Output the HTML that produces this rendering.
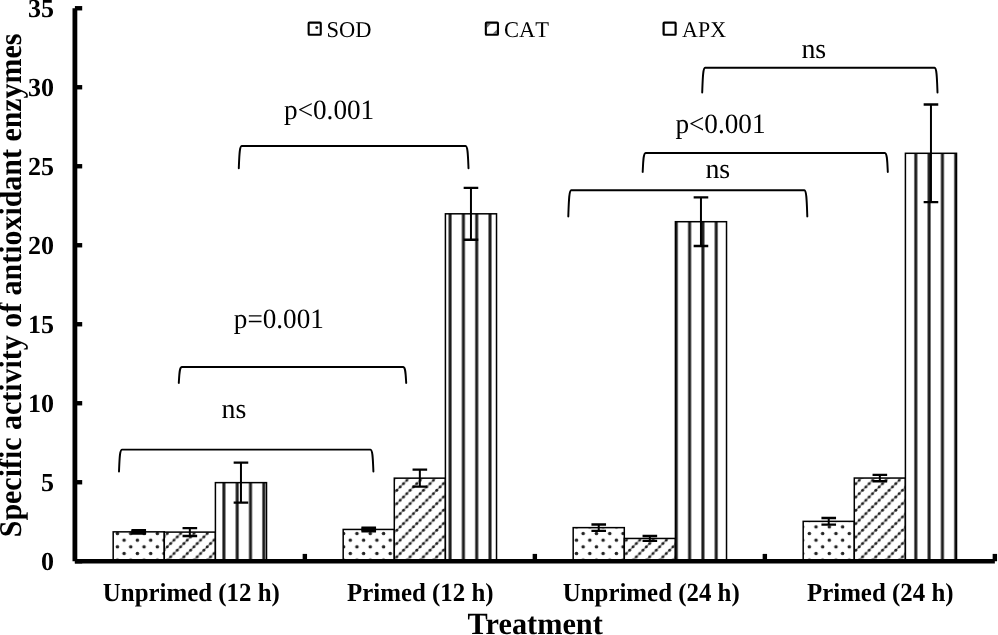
<!DOCTYPE html><html><head><meta charset="utf-8"><style>html,body{margin:0;padding:0;background:#fff;overflow:hidden}svg{display:block;will-change:transform}text{font-family:"Liberation Serif",serif;fill:#000;font-kerning:none;text-rendering:geometricPrecision}.b{font-weight:bold}</style></head><body>
<svg width="998" height="635" viewBox="0 0 998 635">
<defs>
<pattern id="dots" patternUnits="userSpaceOnUse" x="7.6735" y="-2.0765" width="13.306" height="13.306"><rect width="13.306" height="13.306" fill="#fff"/><circle cx="3.3265" cy="3.3265" r="1.75" fill="#222"/><circle cx="9.9795" cy="9.9795" r="1.75" fill="#222"/></pattern>
<pattern id="diag" patternUnits="userSpaceOnUse" x="2.633" y="6.247" width="13.306" height="13.306"><rect width="13.306" height="13.306" fill="#fff"/><path d="M-3,16.306 L16.306,-3 M-3,3 L3,-3 M10.306,16.306 L16.306,10.306" stroke="#8a8a8a" stroke-width="1.5"/><circle cx="1.663" cy="11.643" r="1.45" fill="#1e1e1e"/><circle cx="4.990" cy="8.316" r="1.45" fill="#1e1e1e"/><circle cx="8.316" cy="4.990" r="1.45" fill="#1e1e1e"/><circle cx="11.643" cy="1.663" r="1.45" fill="#1e1e1e"/></pattern>
<pattern id="vert" patternUnits="userSpaceOnUse" x="4.347" y="0" width="13.306" height="13.306"><rect width="13.306" height="13.306" fill="#fff"/><rect x="5.153" y="0" width="3.0" height="13.306" fill="#1c1c1c"/></pattern>
</defs>
<rect width="998" height="635" fill="#fff"/>
<rect x="113.18" y="531.85" width="51.11" height="29.40" fill="url(#dots)" stroke="#000" stroke-width="1.5"/>
<rect x="164.29" y="532.10" width="51.11" height="29.15" fill="url(#diag)" stroke="#000" stroke-width="1.5"/>
<rect x="215.41" y="482.64" width="51.11" height="78.61" fill="url(#vert)" stroke="#000" stroke-width="1.5"/>
<rect x="343.18" y="529.44" width="51.11" height="31.81" fill="url(#dots)" stroke="#000" stroke-width="1.5"/>
<rect x="394.29" y="478.16" width="51.11" height="83.09" fill="url(#diag)" stroke="#000" stroke-width="1.5"/>
<rect x="445.41" y="213.81" width="51.11" height="347.44" fill="url(#vert)" stroke="#000" stroke-width="1.5"/>
<rect x="573.18" y="527.64" width="51.11" height="33.61" fill="url(#dots)" stroke="#000" stroke-width="1.5"/>
<rect x="624.29" y="538.45" width="51.11" height="22.80" fill="url(#diag)" stroke="#000" stroke-width="1.5"/>
<rect x="675.41" y="221.71" width="51.11" height="339.54" fill="url(#vert)" stroke="#000" stroke-width="1.5"/>
<rect x="803.18" y="521.36" width="51.11" height="39.89" fill="url(#dots)" stroke="#000" stroke-width="1.5"/>
<rect x="854.29" y="478.05" width="51.11" height="83.20" fill="url(#diag)" stroke="#000" stroke-width="1.5"/>
<rect x="905.41" y="153.29" width="51.11" height="407.96" fill="url(#vert)" stroke="#000" stroke-width="1.5"/>
<path d="M138.74,530.11V533.58" stroke="#000" stroke-width="2.0" fill="none"/>
<path d="M131.44,530.11h14.6M131.44,533.58h14.6" stroke="#000" stroke-width="2.4" fill="none"/>
<rect x="131.44" y="530.11" width="14.6" height="3.48" fill="#000"/>
<path d="M189.85,528.15V536.05" stroke="#000" stroke-width="2.0" fill="none"/>
<path d="M182.55,528.15h14.6M182.55,536.05h14.6" stroke="#000" stroke-width="2.4" fill="none"/>
<path d="M240.96,462.66V502.63" stroke="#000" stroke-width="2.0" fill="none"/>
<path d="M233.66,462.66h14.6M233.66,502.63h14.6" stroke="#000" stroke-width="2.4" fill="none"/>
<path d="M368.74,527.60V531.29" stroke="#000" stroke-width="2.0" fill="none"/>
<path d="M361.44,527.60h14.6M361.44,531.29h14.6" stroke="#000" stroke-width="2.4" fill="none"/>
<rect x="361.44" y="527.60" width="14.6" height="3.70" fill="#000"/>
<path d="M419.85,469.66V486.66" stroke="#000" stroke-width="2.0" fill="none"/>
<path d="M412.55,469.66h14.6M412.55,486.66h14.6" stroke="#000" stroke-width="2.4" fill="none"/>
<path d="M470.96,187.90V239.72" stroke="#000" stroke-width="2.0" fill="none"/>
<path d="M463.66,187.90h14.6M463.66,239.72h14.6" stroke="#000" stroke-width="2.4" fill="none"/>
<path d="M598.74,524.44V530.85" stroke="#000" stroke-width="2.0" fill="none"/>
<path d="M591.44,524.44h14.6M591.44,530.85h14.6" stroke="#000" stroke-width="2.4" fill="none"/>
<path d="M649.85,536.05V540.85" stroke="#000" stroke-width="2.0" fill="none"/>
<path d="M642.55,536.05h14.6M642.55,540.85h14.6" stroke="#000" stroke-width="2.4" fill="none"/>
<path d="M700.96,197.41V246.01" stroke="#000" stroke-width="2.0" fill="none"/>
<path d="M693.66,197.41h14.6M693.66,246.01h14.6" stroke="#000" stroke-width="2.4" fill="none"/>
<path d="M828.74,518.05V524.66" stroke="#000" stroke-width="2.0" fill="none"/>
<path d="M821.44,518.05h14.6M821.44,524.66h14.6" stroke="#000" stroke-width="2.4" fill="none"/>
<path d="M879.85,474.85V481.25" stroke="#000" stroke-width="2.0" fill="none"/>
<path d="M872.55,474.85h14.6M872.55,481.25h14.6" stroke="#000" stroke-width="2.4" fill="none"/>
<path d="M930.96,104.44V202.15" stroke="#000" stroke-width="2.0" fill="none"/>
<path d="M923.66,104.44h14.6M923.66,202.15h14.6" stroke="#000" stroke-width="2.4" fill="none"/>
<path d="M74.9,8.2V561.25" stroke="#000" stroke-width="4.8"/>
<path d="M74.85,561.25H994.85" stroke="#000" stroke-width="4.7"/>
<path d="M74.9,561.25H82.2" stroke="#000" stroke-width="4.4"/>
<path d="M74.9,482.25H82.2" stroke="#000" stroke-width="4.4"/>
<path d="M74.9,403.25H82.2" stroke="#000" stroke-width="4.4"/>
<path d="M74.9,324.25H82.2" stroke="#000" stroke-width="4.4"/>
<path d="M74.9,245.25H82.2" stroke="#000" stroke-width="4.4"/>
<path d="M74.9,166.25H82.2" stroke="#000" stroke-width="4.4"/>
<path d="M74.9,87.25H82.2" stroke="#000" stroke-width="4.4"/>
<path d="M74.9,8.25H82.2" stroke="#000" stroke-width="4.4"/>
<path d="M304.85,561.25V553.9" stroke="#000" stroke-width="4.4"/>
<path d="M534.85,561.25V553.9" stroke="#000" stroke-width="4.4"/>
<path d="M764.85,561.25V553.9" stroke="#000" stroke-width="4.4"/>
<path d="M994.85,561.25V553.9" stroke="#000" stroke-width="4.4"/>
<text class="b" font-size="26" text-anchor="end" x="53.9" y="570.45">0</text>
<text class="b" font-size="26" text-anchor="end" x="53.9" y="491.45">5</text>
<text class="b" font-size="26" text-anchor="end" x="53.9" y="412.45">10</text>
<text class="b" font-size="26" text-anchor="end" x="53.9" y="333.45">15</text>
<text class="b" font-size="26" text-anchor="end" x="53.9" y="254.45">20</text>
<text class="b" font-size="26" text-anchor="end" x="53.9" y="175.45">25</text>
<text class="b" font-size="26" text-anchor="end" x="53.9" y="96.45">30</text>
<text class="b" font-size="26" text-anchor="end" x="53.9" y="17.45">35</text>
<text class="b" font-size="29.93" transform="translate(21.2,537.2) rotate(-90) scale(1,1.06)">Specific activity of antioxidant enzymes</text>
<text class="b" font-size="24.9" text-anchor="middle" transform="translate(191.35,600.5) scale(1,1.05)">Unprimed (12 h)</text>
<text class="b" font-size="24.9" text-anchor="middle" transform="translate(420.35,600.5) scale(1,1.05)">Primed (12 h)</text>
<text class="b" font-size="24.9" text-anchor="middle" transform="translate(651.25,600.5) scale(1,1.05)">Unprimed (24 h)</text>
<text class="b" font-size="24.9" text-anchor="middle" transform="translate(880.25,600.5) scale(1,1.05)">Primed (24 h)</text>
<text class="b" font-size="30.3" text-anchor="middle" style="font-kerning:normal" transform="translate(535.2,634.3) scale(1,1.02)">Treatment</text>
<g fill="none" stroke="#000" stroke-width="2.1">
<rect x="308.65" y="22.65" width="12.1" height="12.1" rx="0.8"/>
<rect x="485.85" y="22.65" width="12.1" height="12.1" rx="0.8"/>
<rect x="663.55" y="22.65" width="12.1" height="12.1" rx="0.8"/>
</g>
<circle cx="316.8" cy="27.5" r="1.5" fill="#222"/>
<path d="M486.8,23.6 H491.2 L486.8,28 Z M497,33.8 H492.6 L497,29.4 Z" fill="#444" opacity="0.75"/>
<path d="M663.9,23 V34.4 M675.4,23 V34.4" stroke="#000" stroke-width="1"/>
<text font-size="22.5" transform="translate(326.6,36.8) scale(1,1.0000)">SOD</text>
<text font-size="22.5" transform="translate(504,36.8) scale(1,1.0000)">CAT</text>
<text font-size="21.95" transform="translate(682.1,36.8) scale(1,1.0251)">APX</text>
<path d="M119.0,471.5 C119.55,458.36 119.7,449.90 122.0,449.6 L370.4,449.6 C372.7,449.90 372.84999999999997,458.36 373.4,471.5" stroke="#000" stroke-width="1.95" fill="none" stroke-linecap="round"/>
<path d="M178.8,382.9 C179.35000000000002,373.36 179.5,367.30 181.8,367.0 L403.2,367.0 C405.5,367.30 405.65,373.36 406.2,382.9" stroke="#000" stroke-width="1.95" fill="none" stroke-linecap="round"/>
<path d="M238.8,168.2 C239.35000000000002,154.82 239.5,146.20 241.8,145.9 L465.5,145.9 C467.8,146.20 467.95,154.82 468.5,168.2" stroke="#000" stroke-width="1.95" fill="none" stroke-linecap="round"/>
<path d="M568.3,216.4 C568.8499999999999,200.74 569.0,190.60 571.3,190.3 L804.3,190.3 C806.5999999999999,190.60 806.75,200.74 807.3,216.4" stroke="#000" stroke-width="1.95" fill="none" stroke-linecap="round"/>
<path d="M642.7,171.9 C643.25,160.50 643.4000000000001,153.20 645.7,152.9 L884.8,152.9 C887.0999999999999,153.20 887.25,160.50 887.8,171.9" stroke="#000" stroke-width="1.95" fill="none" stroke-linecap="round"/>
<path d="M702.2,92.5 C702.75,77.68 702.9000000000001,68.10 705.2,67.8 L934.5,67.8 C936.8,68.10 936.95,77.68 937.5,92.5" stroke="#000" stroke-width="1.95" fill="none" stroke-linecap="round"/>
<text font-size="27.9" transform="translate(221.5,417.9) scale(1,1.0)">ns</text>
<text font-size="27.2" transform="translate(233.8,328.1) scale(1,1.03)">p=0.001</text>
<text font-size="27.2" transform="translate(284.1,118.5) scale(1,1.03)">p&lt;0.001</text>
<text font-size="27.2" transform="translate(675.4,133.3) scale(1,1.03)">p&lt;0.001</text>
<text font-size="27.9" transform="translate(705.4,178.0) scale(1,1.0)">ns</text>
<text font-size="27.9" transform="translate(801.4,58.4) scale(1,1.0)">ns</text>
</svg></body></html>
